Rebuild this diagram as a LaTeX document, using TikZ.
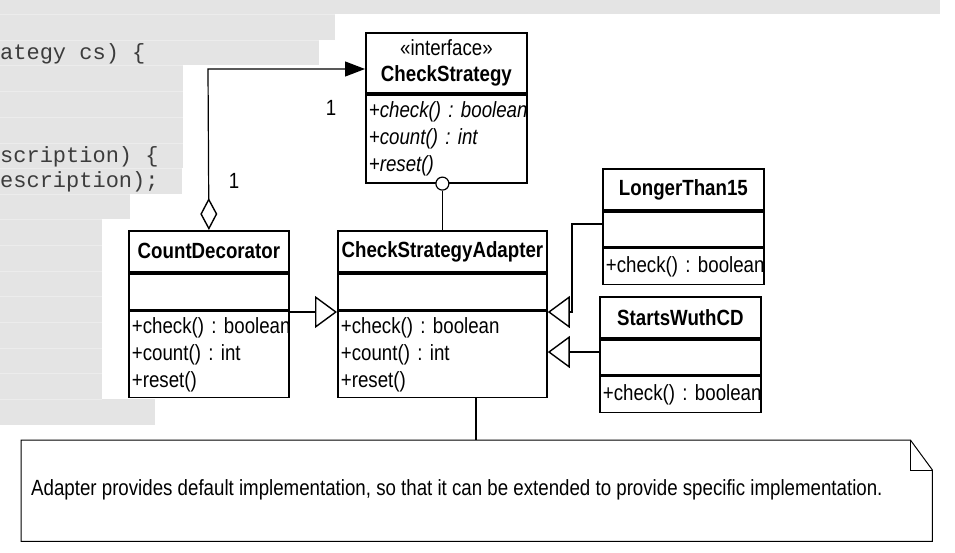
\documentclass[tikz,border=0pt]{standalone}
\usepackage{fontspec}
\setmainfont{Liberation Sans}[FakeStretch=0.85]
\newfontfamily\codefont{Liberation Mono}
\usetikzlibrary{arrows.meta,calc}
\AtBeginDocument{\frenchspacing}
\definecolor{bandgray}{HTML}{E4E4E4}
\definecolor{bandsep}{HTML}{ECECEC}
\definecolor{codegray}{HTML}{3C3C3C}
\newcommand{\ml}[1]{\mbox{#1}}
\tikzset{
  umlbox/.style={draw, line width=1.8pt, inner sep=0pt, anchor=north west},
  titletext/.style={font=\fontsize{22}{26}\selectfont\bfseries, align=center},
  methtext/.style={font=\fontsize{22}{27}\selectfont, align=left, inner xsep=3pt, inner ysep=0pt},
  conn/.style={line width=1.2pt},
  gen/.style={conn, -{Triangle[length=22pt,width=32pt,fill=white,line width=1.4pt]}},
  band/.style={fill=bandgray},
  codeline/.style={font=\fontsize{22}{22}\selectfont\codefont, text=codegray, anchor=west, inner sep=0pt},
  mult/.style={font=\fontsize{22}{22}\selectfont, inner sep=0pt}
}
\begin{document}
\begin{tikzpicture}[x=1pt,y=-1pt]
\path[use as bounding box, fill=white] (0,0) rectangle (955,552);
% background code bands
\foreach \ya/\yb/\xb in {0/14/940, 14/40/335, 40/65/319, 65/91/183, 91/117/183, 117/143/183, 143/168/183, 168/194/182, 194/219/130, 219/245/102, 245/271/102, 271/296/102, 296/322/102, 322/348/102, 348/373/102, 373/399/102, 399/425/155}
  \fill[band] (0,\ya) rectangle (\xb,\yb);
\foreach \ys/\xs in {14/335, 40/319, 65/183, 91/183, 117/183, 143/183, 168/182, 194/130, 219/102, 245/102, 271/102, 296/102, 322/102, 348/102, 373/102, 399/102}
  \draw[bandsep, line width=0.8pt] (0,\ys) -- (\xs,\ys);
\node[codeline] (code1) at (0,54) {ategy cs) \{};
\node[codeline] (code2) at (0,157) {scription) \{};
\node[codeline] (code3) at (0,182) {escription);};

% CheckStrategy
\node[umlbox, minimum width=161pt, minimum height=60pt, titletext] (csHead) at (365,32) {{\mdseries «interface»}\\CheckStrategy};
\node[umlbox, minimum width=161pt, minimum height=88pt, methtext, text width=155pt] (csMeth) at (csHead.south west) {\itshape\ml{+check() : boolean}\\\itshape\ml{+count() : int}\\\itshape\ml{+reset()}};

% CountDecorator
\node[umlbox, minimum width=160pt, minimum height=41pt, titletext] (cdHead) at (128,230) {CountDecorator};
\node[umlbox, minimum width=160pt, minimum height=36pt] (cdAttr) at (cdHead.south west) {};
\node[umlbox, minimum width=160pt, minimum height=86pt, methtext, text width=154pt] (cdMeth) at (cdAttr.south west) {\ml{+check() : boolean}\\\ml{+count() : int}\\\ml{+reset()}};

% CheckStrategyAdapter
\node[umlbox, minimum width=209pt, minimum height=41pt, titletext] (adHead) at (337,230) {CheckStrategyAdapter};
\node[umlbox, minimum width=209pt, minimum height=36pt] (adAttr) at (adHead.south west) {};
\node[umlbox, minimum width=209pt, minimum height=86pt, methtext, text width=203pt] (adMeth) at (adAttr.south west) {\ml{+check() : boolean}\\\ml{+count() : int}\\\ml{+reset()}};

% LongerThan15
\node[umlbox, minimum width=161pt, minimum height=41pt, titletext] (ltHead) at (602,168) {LongerThan15};
\node[umlbox, minimum width=161pt, minimum height=35pt] (ltAttr) at (ltHead.south west) {};
\node[umlbox, minimum width=161pt, minimum height=36pt, methtext, text width=155pt] (ltMeth) at (ltAttr.south west) {\ml{+check() : boolean}};

% StartsWuthCD
\node[umlbox, minimum width=161pt, minimum height=41pt, titletext] (swHead) at (599,296) {StartsWuthCD};
\node[umlbox, minimum width=161pt, minimum height=35pt] (swAttr) at (swHead.south west) {};
\node[umlbox, minimum width=161pt, minimum height=36pt, methtext, text width=155pt] (swMeth) at (swAttr.south west) {\ml{+check() : boolean}};

% aggregation CountDecorator -> CheckStrategy
\coordinate (aggCorner) at (208,69);
\draw[conn, {Diamond[length=32pt,width=17pt,fill=white,line width=1.4pt]}-{Triangle[length=20pt,width=15pt]}]
  (cdHead.north) -- (aggCorner) -- (aggCorner -| csHead.west);
\node[mult] (mult1) at (331,108) {1};
\node[mult] (mult2) at (234,181) {1};

% lollipop
\node[circle, draw, line width=1.2pt, fill=white, minimum size=13pt, inner sep=0pt] (lolli) at (adHead.north |- csMeth.south) {};
\draw[conn] (lolli.south) -- (adHead.north);

% generalizations
\coordinate (g1) at (0,312);
\draw[gen] (g1 -| cdMeth.east) -- (g1 -| adMeth.west);
\coordinate (ltBend) at (572,224);
\coordinate (ltEnd) at (572,312);
\draw[gen] (ltBend -| ltAttr.west) -- (ltBend) -- (ltEnd) -- (ltEnd -| adMeth.east);
\coordinate (g3) at (0,352);
\draw[gen] (g3 -| swAttr.west) -- (g3 -| adMeth.east);

% note
\node[anchor=north west, minimum width=911pt, minimum height=101pt, inner sep=0pt] (note) at (21,440) {};
\draw[line width=1pt] (note.north west) -- ($(note.north east)+(-22pt,0pt)$) -- ($(note.north east)+(0pt,-30pt)$) -- (note.south east) -- (note.south west) -- cycle;
\draw[line width=1pt] ($(note.north east)+(-22pt,0pt)$) |- ($(note.north east)+(0pt,-30pt)$);
\node[anchor=west, inner sep=0pt, font=\fontsize{22}{24}\selectfont] (noteText) at (31,490) {Adapter provides default implementation, so that it can be extended to provide specific implementation.};
\coordinate (noteLink) at (476,0);
\draw[conn] (noteLink |- adMeth.south) -- (noteLink |- note.north);
\end{tikzpicture}
\end{document}
